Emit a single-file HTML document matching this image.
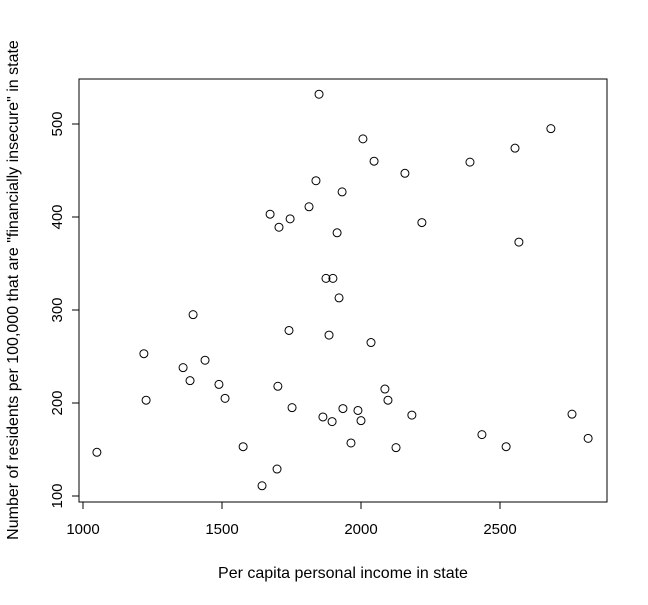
<!DOCTYPE html>
<html><head><meta charset="utf-8"><style>
body{margin:0;background:#fff}
svg text{font-family:"Liberation Sans",Arial,sans-serif;fill:#000}
</style></head><body>
<svg id="chart" width="648" height="600" xmlns="http://www.w3.org/2000/svg">
<rect x="79" y="79" width="528" height="423" fill="none" stroke="#000" stroke-width="1"/>
<g id="xaxis"></g>
<g id="yaxis"></g>
<g id="points"></g>
<text x="343" y="578" font-size="16" text-anchor="middle">Per capita personal income in state</text>
<text transform="translate(18,290) rotate(-90)" font-size="16" text-anchor="middle">Number of residents per 100,000 that are "financially insecure" in state</text>
</svg>
<script>
const incomes=[1050,1219,1227,1360,1385,1396,1439,1489,1511,1576,1644,1673,1698,1701,1705,1741,1745,1752,1813,1838,1849,1863,1874,1885,1896,1899,1914,1921,1932,1935,1964,1989,2000,2007,2036,2047,2086,2097,2126,2158,2183,2219,2392,2435,2522,2554,2568,2683,2759,2817];
const insecure=[147,253,203,238,224,295,246,220,205,153,111,403,129,218,389,278,398,195,411,439,532,185,334,273,180,334,383,313,427,194,157,192,181,484,265,460,215,203,152,447,187,394,459,166,153,474,373,495,188,162];
const xTicks=[1000,1500,2000,2500];
const yTicks=[100,200,300,400,500];
const NS="http://www.w3.org/2000/svg";
function sx(v){return 83+(v-1000)*0.278;}
function sy(v){return 496-(v-100)*0.93;}
function mk(tag,attrs,parent){const e=document.createElementNS(NS,tag);for(const k in attrs)e.setAttribute(k,attrs[k]);parent.appendChild(e);return e;}
const xa=document.getElementById('xaxis'),ya=document.getElementById('yaxis'),pg=document.getElementById('points');
const xl=mk('line',{x1:sx(xTicks[0]),x2:sx(xTicks[xTicks.length-1]),y1:502,y2:502,stroke:'#000'},xa);


xTicks.forEach(t=>{
  const l=mk('line',{x1:sx(t),x2:sx(t),y1:502,y2:509,stroke:'#000'},xa);
  
  
  const tx=mk('text',{x:sx(t),y:534,'font-size':15,'text-anchor':'middle'},xa);
  tx.textContent=t;
  
  
});
const yl=mk('line',{x1:79,x2:79,y1:sy(yTicks[0]),y2:sy(yTicks[yTicks.length-1]),stroke:'#000'},ya);


yTicks.forEach(t=>{
  const l=mk('line',{x1:72,x2:79,y1:sy(t),y2:sy(t),stroke:'#000'},ya);
  
  
  const tx=mk('text',{transform:`translate(62,${sy(t)}) rotate(-90)`,'font-size':15,'text-anchor':'middle'},ya);
  tx.textContent=t;
  
  
});
incomes.forEach((v,i)=>{
  const c=mk('circle',{cx:sx(v),cy:sy(insecure[i]),r:4,fill:'none',stroke:'#000','stroke-width':1},pg);
  
  
});
</script>
</body></html>
